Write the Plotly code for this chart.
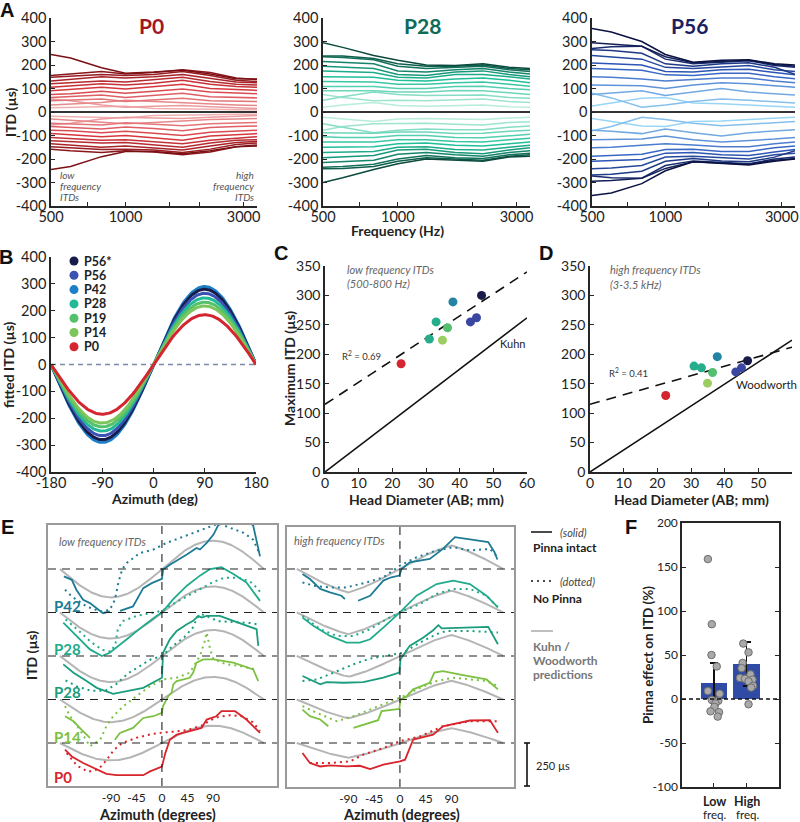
import numpy as np
import plotly.graph_objects as go

W, H = 800, 822
FONT = "Lato"
PANEL_FONT = "Liberation Sans"

# ================= DATA =================
# ---- Panel A: ITD vs frequency (one line per azimuth) ----
freqs = [500, 600, 800, 1000, 1300, 1700, 2200, 2800, 3400]

p0_pos = [
    [245, 230, 188, 165, 170, 178, 162, 142, 140],
    [155, 162, 172, 162, 168, 180, 168, 145, 138],
    [148, 152, 160, 155, 160, 172, 155, 135, 130],
    [132, 138, 150, 145, 150, 160, 142, 128, 124],
    [120, 125, 132, 128, 138, 148, 130, 118, 115],
    [105, 110, 120, 115, 122, 135, 118, 108, 105],
    [90, 95, 105, 98, 108, 118, 100, 95, 92],
    [75, 78, 88, 80, 88, 98, 85, 80, 78],
    [62, 65, 72, 62, 70, 80, 65, 62, 60],
    [48, 50, 55, 45, 50, 58, 48, 45, 45],
    [30, 35, 40, 50, 45, 38, 32, 30, 28],
    [55, 48, 30, 20, 25, 28, 22, 18, 15],
    [18, 20, 22, 25, 15, 15, 12, 10, 10],
]
p0_neg = [
    [-245, -232, -190, -168, -168, -178, -165, -148, -145],
    [-158, -165, -172, -165, -170, -182, -170, -148, -140],
    [-148, -152, -160, -158, -162, -172, -158, -138, -132],
    [-135, -140, -150, -145, -152, -162, -145, -130, -125],
    [-122, -126, -132, -130, -140, -150, -132, -120, -118],
    [-108, -112, -120, -118, -125, -135, -120, -110, -105],
    [-92, -96, -105, -100, -110, -120, -102, -96, -92],
    [-78, -80, -88, -82, -90, -100, -86, -80, -78],
    [-62, -66, -72, -64, -70, -80, -66, -62, -60],
    [-48, -50, -55, -46, -52, -58, -50, -46, -45],
    [-30, -35, -42, -50, -45, -38, -32, -30, -28],
    [-55, -48, -30, -22, -25, -28, -22, -18, -15],
    [-18, -20, -22, -25, -15, -15, -12, -10, -10],
]
p28_pos = [
    [295, 275, 240, 220, 200, 198, 205, 190, 185],
    [238, 238, 228, 205, 195, 195, 200, 185, 180],
    [235, 232, 222, 195, 185, 190, 195, 180, 172],
    [215, 210, 205, 175, 170, 180, 185, 170, 162],
    [195, 190, 185, 160, 155, 170, 175, 160, 150],
    [175, 172, 168, 148, 145, 160, 160, 150, 140],
    [150, 148, 148, 135, 132, 140, 145, 135, 125],
    [130, 128, 128, 118, 118, 125, 128, 118, 110],
    [108, 108, 108, 100, 100, 108, 110, 100, 95],
    [90, 90, 90, 85, 85, 92, 90, 82, 75],
    [50, 65, 85, 75, 70, 72, 72, 62, 58],
    [75, 62, 48, 50, 48, 52, 55, 45, 40],
    [20, 30, 40, 28, 25, 28, 30, 22, 20],
]
p28_neg = [
    [-300, -280, -245, -220, -200, -205, -210, -192, -188],
    [-242, -240, -232, -210, -195, -200, -205, -188, -182],
    [-235, -232, -222, -200, -185, -195, -198, -182, -175],
    [-215, -212, -205, -180, -172, -182, -188, -172, -165],
    [-195, -192, -185, -162, -158, -172, -178, -162, -152],
    [-172, -170, -168, -150, -148, -160, -162, -150, -142],
    [-150, -148, -148, -135, -132, -142, -145, -135, -128],
    [-128, -128, -128, -118, -118, -125, -128, -118, -112],
    [-105, -108, -108, -100, -100, -108, -110, -100, -95],
    [-88, -90, -90, -85, -85, -92, -90, -82, -78],
    [-50, -65, -88, -78, -72, -75, -75, -65, -60],
    [-78, -62, -50, -50, -48, -52, -55, -45, -42],
    [-22, -30, -40, -30, -28, -30, -32, -25, -22],
]
p56_pos = [
    [355, 340, 300, 245, 212, 220, 222, 205, 200],
    [295, 290, 280, 235, 210, 215, 220, 202, 195],
    [270, 278, 280, 225, 205, 212, 218, 198, 190],
    [265, 262, 250, 205, 195, 205, 210, 190, 160],
    [240, 235, 225, 190, 185, 192, 198, 180, 172],
    [208, 205, 200, 172, 170, 180, 182, 168, 158],
    [185, 182, 178, 158, 155, 165, 165, 150, 142],
    [150, 148, 140, 132, 138, 145, 145, 132, 125],
    [115, 115, 112, 100, 115, 125, 120, 112, 105],
    [75, 80, 90, 70, 85, 100, 85, 78, 72],
    [80, 60, 20, 30, 45, 55, 50, 42, 38],
    [25, 38, 58, 62, 38, 35, 30, 25, 20],
]
p56_neg = [
    [-355, -345, -305, -250, -212, -220, -225, -210, -200],
    [-295, -292, -282, -240, -212, -218, -222, -205, -198],
    [-272, -280, -282, -228, -208, -215, -220, -200, -192],
    [-268, -265, -252, -210, -198, -208, -212, -192, -165],
    [-242, -238, -228, -192, -188, -195, -200, -182, -175],
    [-210, -208, -202, -175, -172, -182, -185, -170, -160],
    [-188, -185, -180, -160, -158, -168, -168, -152, -145],
    [-152, -150, -142, -135, -140, -148, -148, -135, -128],
    [-118, -118, -115, -102, -118, -128, -122, -115, -108],
    [-78, -82, -92, -72, -88, -102, -88, -80, -75],
    [-80, -62, -22, -32, -48, -58, -52, -45, -40],
    [-28, -40, -60, -62, -40, -38, -32, -28, -22],
]
a_titles = ["P0", "P28", "P56"]
a_xticks = [500, 700, 1000, 1500, 2000, 3000]
a_xticktext = ["500", "", "1000", "", "", "3000"]
itd_ticks = [-400, -300, -200, -100, 0, 100, 200, 300, 400]

# ---- Panel B: fitted sinusoid amplitudes ----
b_ages = ["P56*", "P56", "P42", "P28", "P19", "P14", "P0"]
b_amp = [280, 265, 290, 248, 232, 218, 185]
b_az_ticks = [-180, -90, 0, 90, 180]

# ---- Panels C & D: max ITD vs head diameter ----
cd_ages = ["P0", "P28", "P28", "P14", "P19", "P42", "P56", "P56", "P56*"]
c_head = [22.6, 31.0, 33.0, 34.9, 36.4, 38.0, 43.2, 45.0, 46.5]
c_itd = [184, 226, 255, 224, 245, 289, 255, 262, 300]
d_head = [22.5, 30.9, 33.1, 34.9, 36.4, 37.8, 43.3, 45.0, 46.8]
d_itd = [130, 180, 177, 151, 169, 196, 170, 177, 189]
line_x = [0, 60]
c_fit = [115, 340]
c_kuhn = [0, 262]
d_fit = [115, 212]
d_wood = [0, 224]

# ---- Panel E: ITD vs azimuth, pinna intact (solid) vs removed (dotted) ----
e_rows = ["P42", "P28", "P28", "P14", "P0"]
e_offsets = [1000, 750, 500, 250, 0]   # stacking, 250 us per row
e1_kuhn_amp = [163, 150, 150, 130, 100]
e2_wood_amp = [135, 125, 120, 108, 85]

e1_solid_az = [
    [-173, -159, -151, -139, -127, -104, -92, None, -74, -51, -33, -18, 0, 2, 14, 44, 61, 67, 79, 91, 99, 115, 145, 161, 173],
    [-174, -159, -145, -127, -106, -92, -62, -33, -9, 0, 20, 44, 67, 85, 105, 126, 149, 167, 173],
    [-174, -156, -133, -115, -86, -62, -33, 0, 2, 14, 26, 44, 55, 64, 70, 79, 102, 126, 149, 167, 170],
    [-171, -156, -142, -127, None, -83, -74, -51, -33, -15, 0, 2, 11, 17, 20, 26, 49, 55, 61, 73, 91, 126, 161, 170],
    [-171, -159, -139, -121, -98, -80, -33, -21, 0, 6, 14, 26, 49, 70, 79, 96, 105, 129, 149, 173],
]
e1_solid_val = [
    [-42, -62, -119, -177, -196, -254, -244, None, -240, -215, -110, -81, -56, -4, 25, 83, 121, 112, 150, 198, 250, 290, 290, 250, 73],
    [-58, -106, -154, -212, -250, -231, -154, -77, -19, 0, 77, 154, 212, 250, 260, 221, 173, 96, 67],
    [-48, -96, -144, -183, -217, -202, -183, -125, 19, 96, 144, 183, 202, 231, 221, 231, 231, 202, 173, 154, 58],
    [-96, -125, -173, -221, None, -231, -192, -163, -106, -96, -77, -38, 19, 38, 87, 106, 125, 154, 212, 231, 231, 212, 173, 106],
    [-38, -77, -115, -144, -177, -185, -185, -163, -135, -58, 19, 48, 67, 87, 135, 154, 183, 183, 135, 58],
]
e1_dot_az = [
    [-171, -159, -133, -109, -92, -83, -77, -70, -62, -39, -15, 8, 32, 55, 79, 100, 120, 144, 161, 173],
    [-170, -150, -125, -105, -90, -82, -78, -70, -45, -20, 0, 20, 45, 70, 90, 110, 135, 155, 168, 175],
    [-170, -150, -125, -100, -80, -60, -40, -20, 0, 20, 40, 55, 62, 70, 85, 100, 130, 155, 172],
    [-171, -162, -145, -127, -109, -98, -86, -68, -45, -21, 2, 26, 49, 67, 75, 79, 85, 91, 114, 138, 167],
    [-168, -150, -130, -112, -98, -85, -70, -45, -20, 0, 20, 45, 70, 85, 100, 120, 140, 160, 173],
]
e1_dot_val = [
    [-119, -158, -215, -244, -235, -177, -81, 0, 35, 92, 112, 150, 179, 208, 237, 262, 237, 208, 169, 83],
    [-40, -95, -170, -215, -225, -180, -100, -50, -20, -5, 10, 50, 95, 140, 175, 200, 200, 180, 140, 110],
    [-140, -175, -200, -200, -160, -100, -60, -20, 0, 60, 110, 165, 220, 240, 220, 200, 195, 190, 180],
    [-38, -96, -173, -269, -231, -154, -96, -38, 19, 77, 115, 125, 154, 250, 330, 385, 290, 231, 202, 192, 173],
    [-58, -130, -165, -150, -100, -40, 0, 30, 50, 60, 65, 75, 100, 130, 150, 160, 155, 120, 70],
]
e2_solid_az = [
    [-170, -157, -139, -122, -102, -96, None, -73, -52, -29, -15, -1, 3, 17, 52, 75, 96, 154, 165, 170],
    [-170, -151, -122, -93, -70, -52, -29, 0, 29, 64, 93, 122, 151, 171],
    [-170, -151, -139, -128, -99, -64, -29, -1, 1, 17, 41, 58, 67, 73, 110, 154, 171],
    [-170, -157, -139, -125, None, -81, -52, -38, -32, -1, 1, 12, 23, 52, 60, 75, 110, 151, 171],
    [-170, -157, -139, -122, -93, -70, -52, -29, 0, 9, 23, 58, 75, 99, 122, 157, 171],
]
e2_solid_val = [
    [-29, -58, -115, -135, -154, -173, None, -183, -154, -67, -48, -38, 0, 38, 58, 115, 183, 154, 96, 54],
    [-29, -77, -135, -173, -173, -154, -87, 0, 96, 163, 183, 163, 96, 29],
    [-115, -144, -163, -150, -154, -150, -125, -96, -19, 58, 106, 148, 177, 158, 163, 167, 67],
    [-58, -96, -115, -154, None, -163, -135, -119, -67, -54, 0, 19, 58, 96, 154, 163, 140, 115, 58],
    [-58, -115, -135, -129, -135, -131, -150, -125, -106, -96, 19, 48, 96, 115, 129, 131, 58],
]
e2_dot_az = [
    [-170, -151, -125, -93, -58, -29, 0, 29, 64, 93, 122, 157, 168],
    [-170, -139, -110, -81, -52, -23, 6, 35, 64, 93, 122, 151, 171],
    [-170, -145, -116, -81, -52, -23, 6, 35, 64, 81, 122, 171],
    [-170, -145, -110, -81, -52, -23, 6, 35, 64, 93, 122, 151, 171],
    [-157, -122, -87, -64, -29, 0, 35, 75, 122, 171],
]
e2_dot_val = [
    [-77, -96, -106, -106, -77, -48, 19, 67, 106, 125, 106, 115, 77],
    [-19, -96, -135, -135, -96, -38, 10, 48, 106, 135, 135, 96, 29],
    [-144, -135, -96, -48, -15, 0, 19, 77, 125, 144, 144, 135],
    [-38, -77, -125, -96, -58, -19, 19, 67, 106, 125, 115, 106, 77],
    [-115, -115, -106, -67, -29, 10, 38, 96, 125, 125],
]
e_az_ticks = [-90, -45, 0, 45, 90]

# ---- Panel F: pinna effect on ITD (%) ----
f_cats = ["Low", "High"]
f_mean = [18, 40]
f_sd = [23, 25]
f_low_pts = [159, 85, 50, 37, 9, 6, -1, -2, -5, -9, -14, -15, -20]
f_low_jit = [-0.18, -0.06, -0.07, 0.09, -0.18, 0.18, -0.06, 0.14, 0.05, 0.02, -0.10, 0.16, 0.12]
f_high_pts = [63, 53, 41, 35, 28, 24, 23, 22, 20, 15, 13, -6]
f_high_jit = [-0.10, 0.06, -0.12, -0.15, 0.12, -0.20, -0.05, 0.18, 0.06, 0.20, 0.14, 0.06]
f_ticks = [-100, -50, 0, 50, 100, 150, 200]

# ================= STYLE =================
age_color = {"P56*": "#171c4b", "P56": "#3a52b3", "P42": "#1f7fc6", "P28": "#22b996",
             "P19": "#56c16c", "P14": "#7cc55a", "P0": "#d42630"}
cd_color = {"P0": "#d42630", "P28": "#26ad8c", "P14": "#9bcd62", "P19": "#55bf70",
            "P42": "#2283a2", "P56": "#3a47a2", "P56*": "#171c4b"}
e_color = ["#1d7b95", "#21aa8b", "#1a9d7d", "#7cc142", "#d8242b"]
a_stops = [["#7a0f14", "#d6373e", "#f0b0b2"],
           ["#0b4a3c", "#1fbf9a", "#b8ecdb"],
           ["#0b1140", "#2f5cc0", "#98d5f6"]]
a_title_color = ["#a3161f", "#0e6b57", "#1b2060"]


def hex2rgb(h):
    h = h.lstrip("#")
    return [int(h[i:i + 2], 16) for i in (0, 2, 4)]


def grad(stops, n):
    cols = []
    for i in range(n):
        t = i / (n - 1) * (len(stops) - 1)
        k = min(int(t), len(stops) - 2)
        f = t - k
        a, b = hex2rgb(stops[k]), hex2rgb(stops[k + 1])
        c = [round(a[j] + (b[j] - a[j]) * f) for j in range(3)]
        cols.append("rgb(%d,%d,%d)" % tuple(c))
    return cols


def xd(a, b):
    return [a / W, b / W]


def yd(top, bottom):
    return [1 - bottom / H, 1 - top / H]


def hy(vals):
    return [("-" + str(abs(v))) if v < 0 else str(v) for v in vals]


def ann(x, y, text, size, color="#222", xanchor="center", yanchor="middle",
        angle=0, family=FONT):
    return dict(x=x / W, y=1 - y / H, xref="paper", yref="paper", text=text,
                showarrow=False, font=dict(size=size, color=color, family=family),
                xanchor=xanchor, yanchor=yanchor, textangle=angle)


def shift(vals, off):
    return [None if v is None else v + off for v in vals]


fig = go.Figure()
shapes = []
anns = []
layout = {}

AX = dict(showgrid=False, zeroline=False, showline=True, linecolor="#262626",
          linewidth=1.5, ticks="inside", ticklen=4, tickcolor="#262626", automargin=False)

# ================= PANEL A =================
a_dom = [(51, 257), (323, 530), (592, 795)]
a_sets = [(p0_pos, p0_neg), (p28_pos, p28_neg), (p56_pos, p56_neg)]
for i in range(3):
    n = i + 1
    xa, ya = ("x" if n == 1 else "x%d" % n), ("y" if n == 1 else "y%d" % n)
    pos, neg = a_sets[i]
    for grp in (pos, neg):
        cols = grad(a_stops[i], len(grp))
        for k in reversed(range(len(grp))):
            fig.add_trace(go.Scatter(x=freqs, y=grp[k], mode="lines",
                                     line=dict(color=cols[k], width=1.5),
                                     xaxis=xa, yaxis=ya, hoverinfo="skip"))
    layout["xaxis" if n == 1 else "xaxis%d" % n] = dict(
        AX, type="log", domain=xd(*a_dom[i]), anchor=ya,
        range=[np.log10(500), np.log10(3400)], tickvals=a_xticks,
        ticktext=a_xticktext, tickfont=dict(size=14.5, color="#222"),
        ticklabelstandoff=-3)
    layout["yaxis" if n == 1 else "yaxis%d" % n] = dict(
        AX, domain=yd(18, 206), anchor=xa, range=[-400, 400],
        tickvals=itd_ticks, ticktext=hy(itd_ticks), tickfont=dict(size=14.5, color="#222"),
        zeroline=True, zerolinecolor="#333", zerolinewidth=2)
    for x0, x1 in ((500, 800), (3000, 3400)):
        shapes.append(dict(type="rect", xref=xa, yref=ya + " domain",
                           x0=np.log10(x0), x1=np.log10(x1), y0=0, y1=1,
                           fillcolor="#dcdcdf", line=dict(width=0), layer="below"))
    anns.append(ann([151, 422, 689][i], 25, "<b>%s</b>" % a_titles[i], 21,
                    color=a_title_color[i]))

anns.append(ann(10, 112, "<b>ITD (µs)</b>", 14, angle=-90))
anns.append(ann(397, 230, "<b>Frequency (Hz)</b>", 14))
for j, t in enumerate(["low", "frequency", "ITDs"]):
    anns.append(ann(58, 175 + 11 * j, "<i>%s</i>" % t, 10, color="#555", xanchor="left"))
for j, t in enumerate(["high", "frequency", "ITDs"]):
    anns.append(ann(256, 175 + 11 * j, "<i>%s</i>" % t, 10, color="#555", xanchor="right"))

# ================= PANEL B =================
b_az = np.linspace(-180, 180, 181)
b_order = [2, 0, 1, 3, 4, 5, 6]
for k in b_order:
    fig.add_trace(go.Scatter(x=b_az, y=b_amp[k] * np.sin(np.radians(b_az)),
                             mode="lines", line=dict(color=age_color[b_ages[k]], width=3),
                             xaxis="x4", yaxis="y4", hoverinfo="skip"))
layout["xaxis4"] = dict(AX, domain=xd(51, 256), anchor="y4", range=[-180, 180],
                        tickvals=b_az_ticks, ticktext=hy(b_az_ticks),
                        tickfont=dict(size=14.5, color="#222"), ticklabelstandoff=-3)
layout["yaxis4"] = dict(AX, domain=yd(257, 472), anchor="x4", range=[-400, 400],
                        tickvals=itd_ticks, ticktext=hy(itd_ticks),
                        tickfont=dict(size=14.5, color="#222"))
shapes.append(dict(type="line", xref="x4", yref="y4", x0=-180, x1=180, y0=0, y1=0,
                   line=dict(color="#8088aa", width=1.3, dash="5px,4px"), layer="below"))
for k, age in enumerate(b_ages):
    yy = 261 + 14.3 * k
    shapes.append(dict(type="circle", xref="paper", yref="paper",
                       x0=(74 - 4.5) / W, x1=(74 + 4.5) / W,
                       y0=1 - (yy + 4.5) / H, y1=1 - (yy - 4.5) / H,
                       fillcolor=age_color[age], line=dict(width=0)))
    anns.append(ann(82, yy, "<b>%s</b>" % age, 12.5, xanchor="left"))
anns.append(ann(9, 365, "<b>fitted ITD (µs)</b>", 14, angle=-90))
anns.append(ann(154, 498, "<b>Azimuth (deg)</b>", 14))

# ================= PANELS C & D =================
cd_ticks_x = [0, 10, 20, 30, 40, 50, 60]
cd_ticks_y = [0, 50, 100, 150, 200, 250, 300, 350]
for n, (dom, hx, hv, fit, model) in zip(
        (5, 6), (((325, 527), c_head, c_itd, c_fit, c_kuhn),
                 ((590, 792), d_head, d_itd, d_fit, d_wood))):
    xa, ya = "x%d" % n, "y%d" % n
    fig.add_trace(go.Scatter(x=line_x, y=model, mode="lines",
                             line=dict(color="#111", width=1.5),
                             xaxis=xa, yaxis=ya, hoverinfo="skip"))
    fig.add_trace(go.Scatter(x=line_x, y=fit, mode="lines",
                             line=dict(color="#111", width=1.6, dash="10px,7px"),
                             xaxis=xa, yaxis=ya, hoverinfo="skip"))
    fig.add_trace(go.Scatter(x=hx, y=hv, mode="markers",
                             marker=dict(size=9, color=[cd_color[a] for a in cd_ages]),
                             xaxis=xa, yaxis=ya, hoverinfo="skip", cliponaxis=False))
    layout["xaxis%d" % n] = dict(AX, domain=xd(*dom), anchor=ya, range=[0, 60],
                                 tickvals=cd_ticks_x, tickfont=dict(size=14, color="#222"),
                                 ticklabelstandoff=-3)
    layout["yaxis%d" % n] = dict(AX, domain=yd(266, 472), anchor=xa, range=[0, 350],
                                 tickvals=cd_ticks_y, tickfont=dict(size=14, color="#222"))

anns.append(ann(290, 369, "<b>Maximum ITD (µs)</b>", 14, angle=-90))
anns.append(ann(426, 499, "<b>Head Diameter (AB; mm)</b>", 14))
anns.append(ann(691, 499, "<b>Head Diameter (AB; mm)</b>", 14))
anns.append(ann(345, 269, "<i>low frequency ITDs</i>", 11, color="#666", xanchor="left"))
anns.append(ann(345, 283, "<i>(500-800 Hz)</i>", 11, color="#666", xanchor="left"))
anns.append(ann(608, 270, "<i>high frequency ITDs</i>", 11, color="#666", xanchor="left"))
anns.append(ann(608, 284, "<i>(3-3.5 kHz)</i>", 11, color="#666", xanchor="left"))
anns.append(ann(340, 355, "R<sup>2</sup> = 0.69", 9.5, color="#333", xanchor="left"))
anns.append(ann(607, 373, "R<sup>2</sup> = 0.41", 9.5, color="#333", xanchor="left"))
anns.append(ann(527, 343, "Kuhn", 11, color="#222", xanchor="right"))
anns.append(ann(766, 384, "Woodworth", 11.5, color="#222"))

# ================= PANEL E =================
e_az = np.linspace(-180, 180, 181)
th = np.radians(e_az)
wood = np.where(np.abs(th) <= np.pi / 2, th + np.sin(th),
                np.sign(th) * np.pi - th + np.sin(th)) / (np.pi / 2 + 1)
e_panels = [
    (7, (48, 277), (525, 786), [-201, 203], [-247, 1253], e1_kuhn_amp, np.sin(th),
     e1_solid_az, e1_solid_val, e1_dot_az, e1_dot_val),
    (8, (287, 514), (527, 787), [-197, 199], [-253, 1241], e2_wood_amp, wood,
     e2_solid_az, e2_solid_val, e2_dot_az, e2_dot_val),
]
for (n, xdm, ydm, xr, yr, amps, shape, saz, sval, daz, dval) in e_panels:
    xa, ya = "x%d" % n, "y%d" % n
    for r in range(5):
        off = e_offsets[r]
        fig.add_trace(go.Scatter(x=e_az, y=amps[r] * shape + off, mode="lines",
                                 line=dict(color="#b5b5b5", width=2),
                                 xaxis=xa, yaxis=ya, hoverinfo="skip"))
    for r in range(5):
        off = e_offsets[r]
        fig.add_trace(go.Scatter(x=daz[r], y=shift(dval[r], off), mode="lines",
                                 line=dict(color=e_color[r], width=2, dash="2px,4px"),
                                 xaxis=xa, yaxis=ya, hoverinfo="skip"))
        fig.add_trace(go.Scatter(x=saz[r], y=shift(sval[r], off), mode="lines",
                                 line=dict(color=e_color[r], width=1.8),
                                 xaxis=xa, yaxis=ya, hoverinfo="skip"))
    layout["xaxis%d" % n] = dict(showgrid=False, zeroline=False, showline=True, mirror=True,
                                 linecolor="#9a9a9a", linewidth=1.5, ticks="", automargin=False,
                                 domain=xd(*xdm), anchor=ya, range=xr,
                                 tickvals=e_az_ticks, ticktext=hy(e_az_ticks),
                                 tickfont=dict(size=12, color="#222"))
    layout["yaxis%d" % n] = dict(showgrid=False, zeroline=False, showline=True, mirror=True,
                                 linecolor="#9a9a9a", linewidth=1.5, ticks="", automargin=False,
                                 showticklabels=False, domain=yd(*ydm), anchor=xa, range=yr)
    for off in e_offsets:
        shapes.append(dict(type="line", xref=xa + " domain", yref=ya, x0=0, x1=1,
                           y0=off, y1=off, line=dict(color="#222", width=1.1, dash="8px,6px")))
    shapes.append(dict(type="line", xref=xa, yref=ya + " domain", x0=0, x1=0, y0=0, y1=1,
                       line=dict(color="#222", width=1.1, dash="8px,6px")))

e_label_y = [606, 649, 692, 737, 777]
for r in range(5):
    anns.append(ann(52, e_label_y[r], "<b>%s</b>" % e_rows[r], 15, color=e_color[r],
                    xanchor="left"))
anns.append(ann(57, 541, "<i>low frequency ITDs</i>", 11, color="#666", xanchor="left"))
anns.append(ann(292, 540, "<i>high frequency ITDs</i>", 11, color="#666", xanchor="left"))
anns.append(ann(31, 655, "<b>ITD (µs)</b>", 14, angle=-90))
anns.append(ann(157, 814, "<b>Azimuth (degrees)</b>", 14.5))
anns.append(ann(401, 814, "<b>Azimuth (degrees)</b>", 14.5))

# E legend column
shapes.append(dict(type="line", xref="paper", yref="paper", x0=531 / W, x1=552 / W,
                   y0=1 - 532 / H, y1=1 - 532 / H, line=dict(color="#111", width=1.5)))
shapes.append(dict(type="line", xref="paper", yref="paper", x0=531 / W, x1=552 / W,
                   y0=1 - 581 / H, y1=1 - 581 / H,
                   line=dict(color="#111", width=1.5, dash="2px,4px")))
shapes.append(dict(type="line", xref="paper", yref="paper", x0=531 / W, x1=553 / W,
                   y0=1 - 631 / H, y1=1 - 631 / H, line=dict(color="#aaa", width=1.5)))
anns.append(ann(558, 532, "<i>(solid)</i>", 11, color="#444", xanchor="left"))
anns.append(ann(531, 547, "<b>Pinna intact</b>", 12, xanchor="left"))
anns.append(ann(558, 581, "<i>(dotted)</i>", 11, color="#444", xanchor="left"))
anns.append(ann(531, 598, "<b>No Pinna</b>", 12, xanchor="left"))
anns.append(ann(531, 646, "<b>Kuhn /</b>", 12, color="#777", xanchor="left"))
anns.append(ann(531, 660, "<b>Woodworth</b>", 12, color="#777", xanchor="left"))
anns.append(ann(531, 674, "<b>predictions</b>", 12, color="#777", xanchor="left"))
# scale bar (250 us)
for y0, y1, x0, x1 in ((743, 786, 527, 527), (743, 743, 524, 530), (786, 786, 524, 530)):
    shapes.append(dict(type="line", xref="paper", yref="paper", x0=x0 / W, x1=x1 / W,
                       y0=1 - y0 / H, y1=1 - y1 / H, line=dict(color="#111", width=1.6)))
anns.append(ann(534, 765, "250 µs", 11, color="#222", xanchor="left"))

# ================= PANEL F =================
fig.add_trace(go.Bar(x=[0, 1], y=f_mean, width=0.8, marker=dict(color="#2f4ba6", line=dict(width=0)),
                     error_y=dict(type="data", array=f_sd, color="#111", thickness=1.6, width=4),
                     xaxis="x9", yaxis="y9", hoverinfo="skip"))
fig.add_trace(go.Scatter(x=[0 + j for j in f_low_jit] + [1 + j for j in f_high_jit],
                         y=f_low_pts + f_high_pts, mode="markers",
                         marker=dict(size=7.5, color="#a9a9a9", line=dict(color="#6e6e6e", width=1)),
                         xaxis="x9", yaxis="y9", hoverinfo="skip", cliponaxis=False))
layout["xaxis9"] = dict(AX, domain=xd(682, 779), anchor="y9", range=[-0.97, 1.99],
                        mirror=True, tickvals=[0, 1], ticktext=["", ""])
layout["yaxis9"] = dict(AX, domain=yd(523, 787), anchor="x9", range=[-100, 200],
                        mirror="ticks", tickvals=f_ticks, ticktext=hy(f_ticks),
                        tickfont=dict(size=12, color="#222"))
shapes.append(dict(type="line", xref="x9 domain", yref="y9", x0=0, x1=1, y0=0, y1=0,
                   line=dict(color="#111", width=1.4, dash="4px,3px"), layer="above"))
for x, c in zip((714, 747), f_cats):
    anns.append(ann(x, 801, "<b>%s</b>" % c, 12.5))
    anns.append(ann(x, 814, "freq.", 11.5))
anns.append(ann(648, 655, "<b>Pinna effect on ITD (%)</b>", 13.5, angle=-90))

# ================= panel letters =================
for t, x, y in (("A", 7, 10), ("B", 6, 257), ("C", 281, 253), ("D", 546, 253),
                ("E", 7, 527), ("F", 631, 527)):
    anns.append(ann(x, y, "<b>%s</b>" % t, 20, color="#111", family=PANEL_FONT))

layout.update(dict(template="none", width=W, height=H,
                   margin=dict(l=0, r=0, t=0, b=0, pad=0, autoexpand=False),
                   paper_bgcolor="white", plot_bgcolor="white", showlegend=False,
                   font=dict(family=FONT, color="#222"), shapes=shapes, annotations=anns,
                   bargap=0))
fig.update_layout(**layout)
fig.write_html("out.html", config={"displayModeBar": False},
               post_script="document.body.style.margin='0px';document.body.style.padding='0px';")
